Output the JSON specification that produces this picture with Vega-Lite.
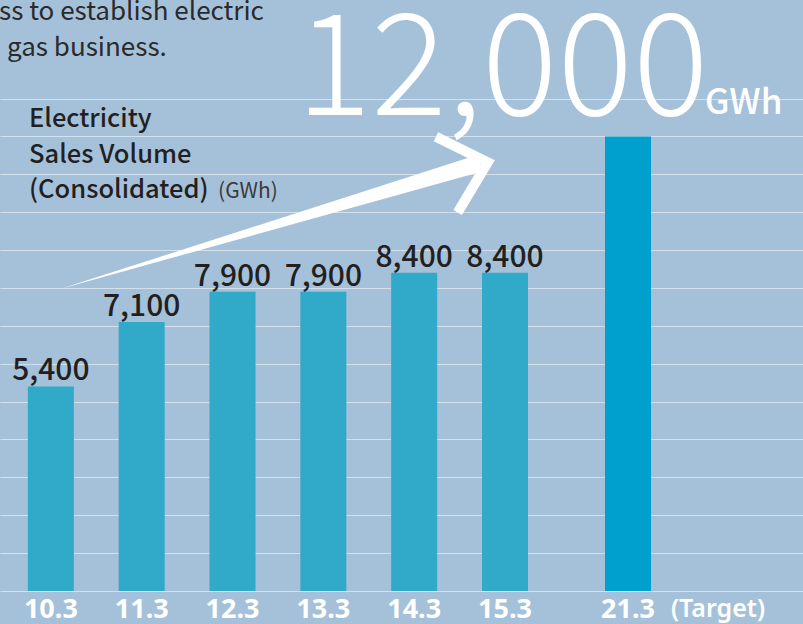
{
  "$schema": "https://vega.github.io/schema/vega-lite/v6.json",
  "width": 803,
  "height": 624,
  "padding": 0,
  "autosize": {"type": "none"},
  "background": "#a5c1da",
  "config": {
    "view": {"stroke": null},
    "axis": {"domain": false, "ticks": false, "labels": false, "title": null}
  },
  "datasets": {
    "sales": [
      {"fy": 10.3, "label": "10.3", "volume": 5400, "kind": "actual"},
      {"fy": 11.3, "label": "11.3", "volume": 7100, "kind": "actual"},
      {"fy": 12.3, "label": "12.3", "volume": 7900, "kind": "actual"},
      {"fy": 13.3, "label": "13.3", "volume": 7900, "kind": "actual"},
      {"fy": 14.3, "label": "14.3", "volume": 8400, "kind": "actual"},
      {"fy": 15.3, "label": "15.3", "volume": 8400, "kind": "actual"},
      {"fy": 21.3, "label": "21.3", "volume": 12000, "kind": "target"}
    ],
    "shaft": [
      {"fy": 10.4008, "top": 7973, "bottom": 7973},
      {"fy": 15.0263, "top": 11534, "bottom": 11059}
    ],
    "head": [
      {"k": 1, "fy": 14.5396, "v": 11994},
      {"k": 2, "fy": 15.110, "v": 11318},
      {"k": 3, "fy": 14.7785, "v": 9992}
    ]
  },
  "layer": [
    {
      "data": {"name": "sales"},
      "mark": {"type": "bar", "width": 46},
      "encoding": {
        "x": {
          "field": "fy", "type": "quantitative", "title": null,
          "scale": {"domain": [9.74, 15.3, 21.3, 23.227], "range": [0, 505, 628, 803], "nice": false, "zero": false, "padding": 0},
          "axis": {"grid": false, "labels": false, "ticks": false, "domain": false, "title": null}
        },
        "y": {
          "field": "volume", "type": "quantitative", "title": null,
          "scale": {"domain": [-871, 15602], "nice": false, "zero": false, "padding": 0},
          "axis": {
            "values": [0, 1000, 2000, 3000, 4000, 5000, 6000, 7000, 8000, 9000, 10000, 11000, 12000, 13000],
            "grid": true, "gridColor": "#d3e1ed", "gridWidth": 1.2,
            "labels": false, "ticks": false, "domain": false, "title": null
          }
        },
        "y2": {"datum": 0},
        "color": {
          "field": "kind", "type": "nominal", "legend": null,
          "scale": {"domain": ["actual", "target"], "range": ["#31a9c9", "#00a0ce"]}
        }
      }
    },
    {
      "data": {"name": "sales"},
      "transform": [{"filter": "datum.kind === 'actual'"}],
      "mark": {"type": "text", "baseline": "alphabetic", "align": "center", "dy": -6, "font": "Noto Sans CJK JP", "fontWeight": 500, "fontSize": 30, "fill": "#231f20"},
      "encoding": {
        "x": {"field": "fy", "type": "quantitative", "title": null},
        "y": {"field": "volume", "type": "quantitative", "title": null},
        "text": {"field": "volume", "type": "quantitative", "format": ","}
      }
    },
    {
      "data": {"name": "sales"},
      "mark": {"type": "text", "baseline": "alphabetic", "align": "center", "dy": 27, "font": "Noto Sans", "fontWeight": "bold", "fontSize": 27, "fill": "#ffffff"},
      "encoding": {
        "x": {"field": "fy", "type": "quantitative", "title": null},
        "y": {"datum": 0, "type": "quantitative", "title": null},
        "text": {"field": "label", "type": "nominal"}
      }
    },
    {
      "data": {"values": [{"t": "(Target)"}]},
      "mark": {"type": "text", "baseline": "alphabetic", "align": "left", "dx": 43, "dy": 26, "font": "Noto Sans", "fontWeight": 600, "fontSize": 25, "fill": "#ffffff"},
      "encoding": {
        "x": {"datum": 21.3, "type": "quantitative", "title": null},
        "y": {"datum": 0, "type": "quantitative", "title": null},
        "text": {"field": "t", "type": "nominal"}
      }
    },
    {
      "data": {"name": "shaft"},
      "mark": {"type": "area", "fill": "#ffffff", "opacity": 1},
      "encoding": {
        "x": {"field": "fy", "type": "quantitative", "title": null},
        "y": {"field": "top", "type": "quantitative", "title": null},
        "y2": {"field": "bottom"}
      }
    },
    {
      "data": {"name": "head"},
      "mark": {"type": "line", "stroke": "#ffffff", "strokeWidth": 10, "strokeJoin": "miter", "strokeMiterLimit": 10, "strokeCap": "butt"},
      "encoding": {
        "x": {"field": "fy", "type": "quantitative", "title": null},
        "y": {"field": "v", "type": "quantitative", "title": null},
        "order": {"field": "k", "type": "quantitative"}
      }
    },
    {
      "data": {"values": [{"t": "12,000"}]},
      "mark": {"type": "text", "baseline": "alphabetic", "align": "center", "font": "Noto Sans CJK JP", "fontWeight": 300, "fontSize": 141, "fill": "#ffffff"},
      "encoding": {
        "x": {"datum": 15.2687, "type": "quantitative", "title": null},
        "y": {"datum": 12566, "type": "quantitative", "title": null},
        "text": {"field": "t", "type": "nominal"}
      }
    },
    {
      "data": {"values": [{"t": "GWh"}]},
      "mark": {"type": "text", "baseline": "alphabetic", "align": "left", "font": "Noto Sans CJK JP", "fontWeight": 500, "fontSize": 35, "fill": "#ffffff"},
      "encoding": {
        "x": {"datum": 22.148, "type": "quantitative", "title": null},
        "y": {"datum": 12593, "type": "quantitative", "title": null},
        "text": {"field": "t", "type": "nominal"}
      }
    },
    {
      "data": {"values": [{"t": ["Electricity", "Sales Volume", "(Consolidated)"]}]},
      "mark": {"type": "text", "baseline": "alphabetic", "align": "left", "lineHeight": 35.5, "font": "Noto Sans CJK JP", "fontWeight": 500, "fontSize": 25.5, "fill": "#231f20"},
      "encoding": {
        "x": {"datum": 10.0594, "type": "quantitative", "title": null},
        "y": {"datum": 12242, "type": "quantitative", "title": null},
        "text": {"field": "t"}
      }
    },
    {
      "data": {"values": [{"t": "(GWh)"}]},
      "mark": {"type": "text", "baseline": "alphabetic", "align": "left", "font": "Noto Sans CJK JP", "fontWeight": 400, "fontSize": 21, "fill": "#3b3b3b"},
      "encoding": {
        "x": {"datum": 12.141, "type": "quantitative", "title": null},
        "y": {"datum": 10367, "type": "quantitative", "title": null},
        "text": {"field": "t", "type": "nominal"}
      }
    },
    {
      "data": {"values": [{"t": "ss to establish electric"}]},
      "mark": {"type": "text", "baseline": "alphabetic", "align": "left", "font": "Noto Sans CJK JP", "fontWeight": 400, "fontSize": 26, "fill": "#2a2a2a"},
      "encoding": {
        "x": {"datum": 9.729, "type": "quantitative", "title": null},
        "y": {"datum": 15074, "type": "quantitative", "title": null},
        "text": {"field": "t", "type": "nominal"}
      }
    },
    {
      "data": {"values": [{"t": "gas business."}]},
      "mark": {"type": "text", "baseline": "alphabetic", "align": "left", "font": "Noto Sans CJK JP", "fontWeight": 400, "fontSize": 26, "fill": "#2a2a2a"},
      "encoding": {
        "x": {"datum": 9.817, "type": "quantitative", "title": null},
        "y": {"datum": 14124, "type": "quantitative", "title": null},
        "text": {"field": "t", "type": "nominal"}
      }
    }
  ]
}
